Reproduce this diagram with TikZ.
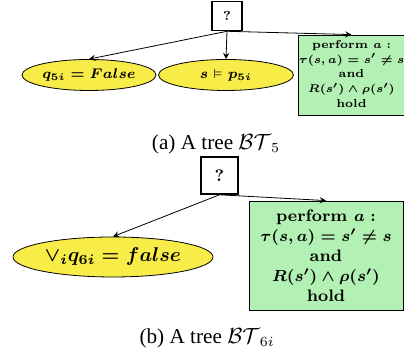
\documentclass[tikz,border=0pt]{standalone}
\usepackage{fontspec}
\usepackage{graphicx}
\usepackage{amsmath,amssymb}
\usetikzlibrary{shapes.geometric}
\newfontfamily\capfont{Liberation Serif}
\definecolor{condyellow}{HTML}{F8EC48}
\definecolor{actgreen}{HTML}{B3F0B3}
\tikzset{
  fallback/.style={draw, thick, rectangle, font=\bfseries},
  cond/.style={draw, ellipse, fill=condyellow, inner sep=0pt},
  action/.style={draw, rectangle, fill=actgreen, align=center, inner sep=0pt},
  caption/.style={font=\capfont\fontsize{10.6}{12}\selectfont}
}
\begin{document}
\begin{tikzpicture}[>=stealth, x=0.5pt, y=-0.5pt]
      \useasboundingbox (0,0) rectangle (404,356);
      % tree (a)
      \node[fallback, minimum width=15pt, minimum height=14.5pt, font=\bfseries\fontsize{6.5}{7.5}\selectfont] (fa) at (227,16) {?};
      \node[cond, minimum width=67pt, minimum height=15.5pt, font=\fontsize{6.6}{7.5}\selectfont\boldmath] (qa) at (89,75) {$q_{5i} = False$};
      \node[cond, minimum width=67.5pt, minimum height=15.5pt, font=\fontsize{6.6}{7.5}\selectfont\boldmath] (pa) at (226,75) {$s \vDash p_{5i}$};
      \node[action, minimum width=52pt, minimum height=40pt, font=\bfseries\fontsize{6.2}{8}\selectfont\boldmath] (aa) at (351.5,75)
        {\scalebox{0.93}{\begin{tabular}{@{}c@{}}perform $a:$\\ $\tau(s,a) = s' \neq s$\\ and\\ $R(s') \wedge \rho(s')$\\ hold\end{tabular}}};
      \draw[->] (fa.south) -- (qa.north);
      \draw[->] (fa.south) -- (pa.north);
      \draw[->] (fa.south) -- (aa.north);
      \node[caption] (capa) at (216,144) {(a) A tree $\mathcal{BT}_5$};
      % tree (b)
      \node[fallback, minimum width=18.5pt, minimum height=18.5pt, font=\bfseries\fontsize{8.3}{10}\selectfont] (fb) at (219.5,175.5) {?};
      \node[cond, minimum width=100pt, minimum height=20pt, font=\fontsize{10}{12}\selectfont\boldmath] (qb) at (113,257) {$\vee_i q_{6i} = false$};
      \node[action, minimum width=77pt, minimum height=54.5pt, font=\bfseries\fontsize{8.3}{10}\selectfont\boldmath] (ab) at (326,255.5)
        {perform $a:$\\ $\tau(s,a) = s' \neq s$\\ and\\ $R(s') \wedge \rho(s')$\\ hold};
      \draw[->] (fb.south) -- (qb.north);
      \draw[->] (fb.south) -- (ab.north);
      \node[caption] (capb) at (207,338) {(b) A tree $\mathcal{BT}_{6i}$};
\end{tikzpicture}
\end{document}
